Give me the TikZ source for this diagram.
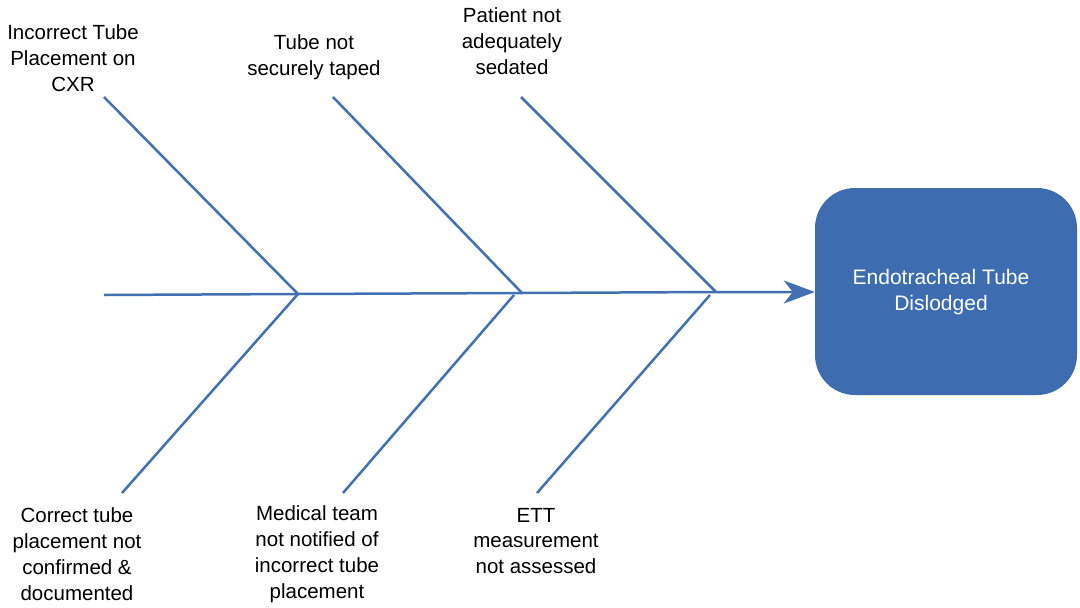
\documentclass[tikz,border=0pt]{standalone}
\usepackage{fontspec}
\setmainfont{Liberation Sans}
\usetikzlibrary{arrows.meta}
\definecolor{bone}{HTML}{4270B3}
\definecolor{boxfill}{HTML}{3D6DB0}
\begin{document}
\begin{tikzpicture}[x=1pt,y=-1pt,
  lbl/.style={align=center,font=\fontsize{20.5}{25.8}\selectfont,inner sep=0pt},
  bonel/.style={draw=bone,line width=2.5pt},
  effect/.style={fill=boxfill,rounded corners=40pt,minimum width=262pt,minimum height=207pt},
  efftext/.style={text=white,align=center,font=\fontsize{21}{25.8}\selectfont}]
\useasboundingbox (0,0) rectangle (1080,608);
% effect box
\node[effect] (eff) at (946,291.5) {};
\node[efftext] (efftxt) at (941,292) {Endotracheal Tube\\Dislodged};
% spine
\coordinate (tail) at (104,295);
\coordinate (j1) at (298,294);
\coordinate (j2) at (522,293);
\coordinate (j3) at (716,292);
\draw[bonel,-{Stealth[length=31pt,width=23pt,inset=9pt]}] (tail) -- (j1) -- (j2) -- (j3) -- (eff.west |- j3);
% bone ends
\coordinate (u1) at (104,97);
\coordinate (u2) at (333,97);
\coordinate (u3) at (521,97);
\coordinate (l1) at (122,493);
\coordinate (l2) at (343,493);
\coordinate (l3) at (537,493);
\coordinate (m2) at (514,295);
\coordinate (m3) at (710,295);
\draw[bonel] (u1) -- (j1);
\draw[bonel] (l1) -- (j1);
\draw[bonel] (u2) -- (j2);
\draw[bonel] (l2) -- (m2);
\draw[bonel] (u3) -- (j3);
\draw[bonel] (l3) -- (m3);
% labels
\node[lbl] (t1) at (73,58) {Incorrect Tube\\Placement on\\CXR};
\node[lbl] (t2) at (314,57) {Tube not\\securely taped};
\node[lbl] (t3) at (512,41) {Patient not\\adequately\\sedated};
\node[lbl] (b1) at (77,554) {Correct tube\\placement not\\confirmed \&\\documented};
\node[lbl] (b2) at (317,554) {Medical team\\not notified of\\incorrect tube\\placement};
\node[lbl] (b3) at (536,541) {ETT\\measurement\\not assessed};
\end{tikzpicture}
\end{document}
